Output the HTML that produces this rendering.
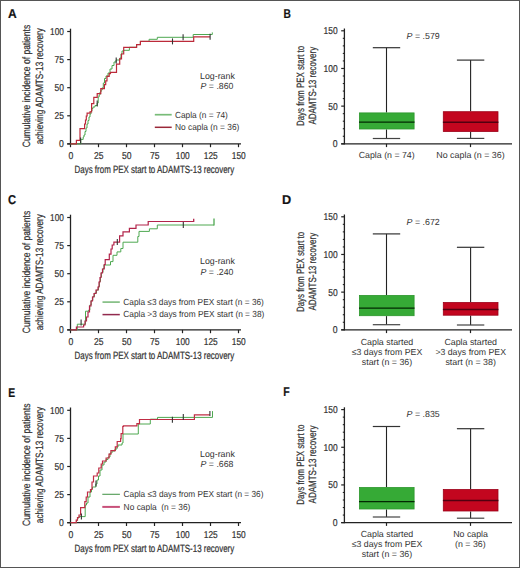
<!DOCTYPE html>
<html><head><meta charset="utf-8"><style>
html,body{margin:0;padding:0;background:#fff;}
body{width:520px;height:568px;overflow:hidden;font-family:"Liberation Sans", sans-serif;}
svg{display:block;}
</style></head><body>
<svg width="520" height="568" viewBox="0 0 520 568" font-family="&quot;Liberation Sans&quot;, sans-serif" fill="#333" text-rendering="geometricPrecision"><style>text{stroke:#333;stroke-width:0.22px;} text.l{stroke:none;}</style>
<rect x="0" y="0" width="520" height="568" fill="#fff"/>
<text x="8.10" y="18.30" font-size="12.8" textLength="8.70" lengthAdjust="spacingAndGlyphs" font-weight="bold" fill="#111">A</text>
<text x="283.50" y="18.10" font-size="12.8" textLength="7.40" lengthAdjust="spacingAndGlyphs" font-weight="bold" fill="#111">B</text>
<text x="8.10" y="204.40" font-size="12.8" textLength="8.10" lengthAdjust="spacingAndGlyphs" font-weight="bold" fill="#111">C</text>
<text x="282.00" y="203.80" font-size="12.8" textLength="9.20" lengthAdjust="spacingAndGlyphs" font-weight="bold" fill="#111">D</text>
<text x="8.30" y="396.80" font-size="12.8" textLength="6.90" lengthAdjust="spacingAndGlyphs" font-weight="bold" fill="#111">E</text>
<text x="283.20" y="396.00" font-size="12.8" textLength="6.40" lengthAdjust="spacingAndGlyphs" font-weight="bold" fill="#111">F</text>
<line x1="70.50" y1="28.70" x2="70.50" y2="144.50" stroke="#222" stroke-width="1.3"/>
<line x1="67.20" y1="143.90" x2="241.00" y2="143.90" stroke="#222" stroke-width="1.3"/>
<line x1="67.20" y1="31.50" x2="70.50" y2="31.50" stroke="#222" stroke-width="1.2"/>
<text x="63.90" y="34.90" font-size="10" text-anchor="end" textLength="13.80" lengthAdjust="spacingAndGlyphs">100</text>
<line x1="67.20" y1="59.60" x2="70.50" y2="59.60" stroke="#222" stroke-width="1.2"/>
<text x="63.90" y="63.00" font-size="10" text-anchor="end" textLength="9.40" lengthAdjust="spacingAndGlyphs">75</text>
<line x1="67.20" y1="87.70" x2="70.50" y2="87.70" stroke="#222" stroke-width="1.2"/>
<text x="63.90" y="91.10" font-size="10" text-anchor="end" textLength="9.40" lengthAdjust="spacingAndGlyphs">50</text>
<line x1="67.20" y1="115.80" x2="70.50" y2="115.80" stroke="#222" stroke-width="1.2"/>
<text x="63.90" y="119.20" font-size="10" text-anchor="end" textLength="9.40" lengthAdjust="spacingAndGlyphs">25</text>
<line x1="67.20" y1="143.90" x2="70.50" y2="143.90" stroke="#222" stroke-width="1.2"/>
<text x="63.90" y="147.30" font-size="10" text-anchor="end" textLength="4.80" lengthAdjust="spacingAndGlyphs">0</text>
<line x1="70.50" y1="143.90" x2="70.50" y2="147.20" stroke="#222" stroke-width="1.2"/>
<text x="70.80" y="159.00" font-size="10" text-anchor="middle" textLength="4.80" lengthAdjust="spacingAndGlyphs">0</text>
<line x1="98.50" y1="143.90" x2="98.50" y2="147.20" stroke="#222" stroke-width="1.2"/>
<text x="98.80" y="159.00" font-size="10" text-anchor="middle" textLength="9.50" lengthAdjust="spacingAndGlyphs">25</text>
<line x1="126.50" y1="143.90" x2="126.50" y2="147.20" stroke="#222" stroke-width="1.2"/>
<text x="126.80" y="159.00" font-size="10" text-anchor="middle" textLength="9.50" lengthAdjust="spacingAndGlyphs">50</text>
<line x1="154.50" y1="143.90" x2="154.50" y2="147.20" stroke="#222" stroke-width="1.2"/>
<text x="154.80" y="159.00" font-size="10" text-anchor="middle" textLength="9.50" lengthAdjust="spacingAndGlyphs">75</text>
<line x1="182.50" y1="143.90" x2="182.50" y2="147.20" stroke="#222" stroke-width="1.2"/>
<text x="182.80" y="159.00" font-size="10" text-anchor="middle" textLength="13.90" lengthAdjust="spacingAndGlyphs">100</text>
<line x1="210.50" y1="143.90" x2="210.50" y2="147.20" stroke="#222" stroke-width="1.2"/>
<text x="210.80" y="159.00" font-size="10" text-anchor="middle" textLength="13.90" lengthAdjust="spacingAndGlyphs">125</text>
<line x1="238.50" y1="143.90" x2="238.50" y2="147.20" stroke="#222" stroke-width="1.2"/>
<text x="238.80" y="159.00" font-size="10" text-anchor="middle" textLength="13.90" lengthAdjust="spacingAndGlyphs">150</text>
<text x="74.60" y="172.80" font-size="10.5" textLength="159.60" lengthAdjust="spacingAndGlyphs">Days from PEX start to ADAMTS-13 recovery</text>
<text x="30.20" y="86.00" font-size="10.6" text-anchor="middle" textLength="122.40" lengthAdjust="spacingAndGlyphs" transform="rotate(-90 30.20 86.00)">Cumulative incidence of patients</text>
<text x="42.60" y="86.20" font-size="10.6" text-anchor="middle" textLength="116.30" lengthAdjust="spacingAndGlyphs" transform="rotate(-90 42.60 86.20)">achieving ADAMTS-13 recovery</text>
<text x="200.00" y="78.70" font-size="8.8" class="l" textLength="34.80" lengthAdjust="spacingAndGlyphs">Log-rank</text>
<text class="l" x="200.6" y="88.90" font-size="8.8" textLength="32.9" lengthAdjust="spacingAndGlyphs"><tspan font-style="italic">P</tspan> = .860</text>
<line x1="154.80" y1="114.70" x2="171.70" y2="114.70" stroke="#78bc78" stroke-width="1.7"/>
<text x="175.00" y="117.60" font-size="8.8" class="l" textLength="52.90" lengthAdjust="spacingAndGlyphs">Capla (n = 74)</text>
<line x1="154.80" y1="127.30" x2="171.70" y2="127.30" stroke="#9a2838" stroke-width="1.5"/>
<text x="175.00" y="130.10" font-size="8.8" class="l" textLength="64.40" lengthAdjust="spacingAndGlyphs">No capla (n = 36)</text>
<path d="M70.50 143.90H80.80V139.40H83.20V137.00H84.00V135.00H85.00V131.50H86.00V128.00H87.00V124.00H88.00V120.50H89.00V117.00H90.00V114.00H91.00V111.00H92.00V108.50H93.00V107.00H95.00V105.50H97.20V103.00H98.20V97.00H99.10V95.00H100.00V92.00H101.00V90.00H102.20V87.80H103.30V83.00H104.50V78.50H106.00V76.00H108.00V73.00H110.00V69.00H112.00V65.50H114.00V62.00H116.00V60.00H119.80V58.00H121.00V54.00H122.00V51.00H124.00V50.30H129.40V47.30H136.60V44.60H140.40V41.40H149.10V39.30H157.30V37.30H193.20V34.50H212.30V32.40H212.30" fill="none" stroke="#4ea851" stroke-width="1.0" stroke-linejoin="miter" stroke-linecap="butt"/>
<path d="M70.50 143.90H76.40V140.30H80.00V128.70H84.60V124.00H85.50V120.00H86.30V116.00H87.10V113.20H90.00V111.80H91.60V103.60H93.80V97.30H97.20V93.60H100.80V88.70H104.40V84.70H105.70V80.80H107.00V76.40H109.20V73.70H110.50V72.40H116.50V64.10H119.70V58.80H121.50V54.00H123.70V47.30H136.60V44.60H140.40V41.40H193.70V36.80H210.10" fill="none" stroke="#bc2a3a" stroke-width="1.2" stroke-linejoin="miter" stroke-linecap="butt"/>
<line x1="183.10" y1="34.30" x2="183.10" y2="40.30" stroke="#333" stroke-width="1.1"/>
<line x1="172.50" y1="38.40" x2="172.50" y2="44.40" stroke="#333" stroke-width="1.1"/>
<line x1="210.10" y1="33.80" x2="210.10" y2="39.80" stroke="#333" stroke-width="1.1"/>
<line x1="116.20" y1="57.50" x2="116.20" y2="63.50" stroke="#333" stroke-width="1.1"/>
<line x1="97.20" y1="100.50" x2="97.20" y2="106.50" stroke="#333" stroke-width="1.1"/>
<line x1="80.60" y1="137.50" x2="80.60" y2="143.50" stroke="#333" stroke-width="1.1"/>
<line x1="344.40" y1="28.50" x2="344.40" y2="144.40" stroke="#222" stroke-width="1.3"/>
<line x1="341.20" y1="143.80" x2="512.00" y2="143.80" stroke="#222" stroke-width="1.3"/>
<line x1="341.20" y1="143.80" x2="344.40" y2="143.80" stroke="#222" stroke-width="1.2"/>
<line x1="342.80" y1="136.27" x2="344.40" y2="136.27" stroke="#222" stroke-width="1.1"/>
<line x1="342.80" y1="128.73" x2="344.40" y2="128.73" stroke="#222" stroke-width="1.1"/>
<line x1="342.80" y1="121.20" x2="344.40" y2="121.20" stroke="#222" stroke-width="1.1"/>
<line x1="342.80" y1="113.67" x2="344.40" y2="113.67" stroke="#222" stroke-width="1.1"/>
<line x1="341.20" y1="106.13" x2="344.40" y2="106.13" stroke="#222" stroke-width="1.2"/>
<line x1="342.80" y1="98.60" x2="344.40" y2="98.60" stroke="#222" stroke-width="1.1"/>
<line x1="342.80" y1="91.07" x2="344.40" y2="91.07" stroke="#222" stroke-width="1.1"/>
<line x1="342.80" y1="83.53" x2="344.40" y2="83.53" stroke="#222" stroke-width="1.1"/>
<line x1="342.80" y1="76.00" x2="344.40" y2="76.00" stroke="#222" stroke-width="1.1"/>
<line x1="341.20" y1="68.47" x2="344.40" y2="68.47" stroke="#222" stroke-width="1.2"/>
<line x1="342.80" y1="60.93" x2="344.40" y2="60.93" stroke="#222" stroke-width="1.1"/>
<line x1="342.80" y1="53.40" x2="344.40" y2="53.40" stroke="#222" stroke-width="1.1"/>
<line x1="342.80" y1="45.87" x2="344.40" y2="45.87" stroke="#222" stroke-width="1.1"/>
<line x1="342.80" y1="38.33" x2="344.40" y2="38.33" stroke="#222" stroke-width="1.1"/>
<line x1="341.20" y1="30.80" x2="344.40" y2="30.80" stroke="#222" stroke-width="1.2"/>
<text x="337.60" y="147.20" font-size="10" text-anchor="end" textLength="4.80" lengthAdjust="spacingAndGlyphs">0</text>
<text x="337.60" y="109.53" font-size="10" text-anchor="end" textLength="9.40" lengthAdjust="spacingAndGlyphs">50</text>
<text x="337.60" y="71.87" font-size="10" text-anchor="end" textLength="14.00" lengthAdjust="spacingAndGlyphs">100</text>
<text x="337.60" y="34.20" font-size="10" text-anchor="end" textLength="14.00" lengthAdjust="spacingAndGlyphs">150</text>
<line x1="386.50" y1="143.80" x2="386.50" y2="147.10" stroke="#222" stroke-width="1.2"/>
<line x1="470.50" y1="143.80" x2="470.50" y2="147.10" stroke="#222" stroke-width="1.2"/>
<text x="304.20" y="85.90" font-size="10.6" text-anchor="middle" textLength="80.10" lengthAdjust="spacingAndGlyphs" transform="rotate(-90 304.20 85.90)">Days from PEX start to</text>
<text x="316.30" y="85.70" font-size="10.6" text-anchor="middle" textLength="77.80" lengthAdjust="spacingAndGlyphs" transform="rotate(-90 316.30 85.70)">ADAMTS-13 recovery</text>
<text class="l" x="406.6" y="38.80" font-size="8.8" textLength="33.2" lengthAdjust="spacingAndGlyphs"><tspan font-style="italic">P</tspan> = .579</text>
<line x1="386.50" y1="47.70" x2="386.50" y2="112.50" stroke="#222" stroke-width="1.1"/>
<line x1="386.50" y1="129.40" x2="386.50" y2="138.50" stroke="#222" stroke-width="1.1"/>
<line x1="372.80" y1="47.70" x2="400.20" y2="47.70" stroke="#333" stroke-width="1.2"/>
<line x1="372.80" y1="138.50" x2="400.20" y2="138.50" stroke="#444" stroke-width="1.2"/>
<rect x="359.40" y="112.90" width="54.70" height="16.10" fill="#36aa36" stroke="#2c962c" stroke-width="0.8"/>
<line x1="359.00" y1="122.10" x2="414.50" y2="122.10" stroke="#022802" stroke-width="1.4"/>
<line x1="470.60" y1="60.10" x2="470.60" y2="111.30" stroke="#222" stroke-width="1.1"/>
<line x1="470.60" y1="131.90" x2="470.60" y2="138.40" stroke="#222" stroke-width="1.1"/>
<line x1="456.90" y1="60.10" x2="484.30" y2="60.10" stroke="#333" stroke-width="1.2"/>
<line x1="456.90" y1="138.40" x2="484.30" y2="138.40" stroke="#444" stroke-width="1.2"/>
<rect x="443.30" y="111.70" width="54.70" height="19.80" fill="#c3061f" stroke="#9c0018" stroke-width="0.8"/>
<line x1="442.90" y1="122.30" x2="498.40" y2="122.30" stroke="#520010" stroke-width="1.4"/>
<text x="386.70" y="158.30" font-size="8.8" class="l" text-anchor="middle" textLength="55.90" lengthAdjust="spacingAndGlyphs">Capla (n = 74)</text>
<text x="470.50" y="158.40" font-size="8.8" class="l" text-anchor="middle" textLength="68.40" lengthAdjust="spacingAndGlyphs">No capla (n = 36)</text>
<line x1="70.50" y1="214.70" x2="70.50" y2="330.50" stroke="#222" stroke-width="1.3"/>
<line x1="67.20" y1="329.90" x2="241.00" y2="329.90" stroke="#222" stroke-width="1.3"/>
<line x1="67.20" y1="217.50" x2="70.50" y2="217.50" stroke="#222" stroke-width="1.2"/>
<text x="63.90" y="220.90" font-size="10" text-anchor="end" textLength="13.80" lengthAdjust="spacingAndGlyphs">100</text>
<line x1="67.20" y1="245.60" x2="70.50" y2="245.60" stroke="#222" stroke-width="1.2"/>
<text x="63.90" y="249.00" font-size="10" text-anchor="end" textLength="9.40" lengthAdjust="spacingAndGlyphs">75</text>
<line x1="67.20" y1="273.70" x2="70.50" y2="273.70" stroke="#222" stroke-width="1.2"/>
<text x="63.90" y="277.10" font-size="10" text-anchor="end" textLength="9.40" lengthAdjust="spacingAndGlyphs">50</text>
<line x1="67.20" y1="301.80" x2="70.50" y2="301.80" stroke="#222" stroke-width="1.2"/>
<text x="63.90" y="305.20" font-size="10" text-anchor="end" textLength="9.40" lengthAdjust="spacingAndGlyphs">25</text>
<line x1="67.20" y1="329.90" x2="70.50" y2="329.90" stroke="#222" stroke-width="1.2"/>
<text x="63.90" y="333.30" font-size="10" text-anchor="end" textLength="4.80" lengthAdjust="spacingAndGlyphs">0</text>
<line x1="70.50" y1="329.90" x2="70.50" y2="333.20" stroke="#222" stroke-width="1.2"/>
<text x="70.80" y="345.00" font-size="10" text-anchor="middle" textLength="4.80" lengthAdjust="spacingAndGlyphs">0</text>
<line x1="98.50" y1="329.90" x2="98.50" y2="333.20" stroke="#222" stroke-width="1.2"/>
<text x="98.80" y="345.00" font-size="10" text-anchor="middle" textLength="9.50" lengthAdjust="spacingAndGlyphs">25</text>
<line x1="126.50" y1="329.90" x2="126.50" y2="333.20" stroke="#222" stroke-width="1.2"/>
<text x="126.80" y="345.00" font-size="10" text-anchor="middle" textLength="9.50" lengthAdjust="spacingAndGlyphs">50</text>
<line x1="154.50" y1="329.90" x2="154.50" y2="333.20" stroke="#222" stroke-width="1.2"/>
<text x="154.80" y="345.00" font-size="10" text-anchor="middle" textLength="9.50" lengthAdjust="spacingAndGlyphs">75</text>
<line x1="182.50" y1="329.90" x2="182.50" y2="333.20" stroke="#222" stroke-width="1.2"/>
<text x="182.80" y="345.00" font-size="10" text-anchor="middle" textLength="13.90" lengthAdjust="spacingAndGlyphs">100</text>
<line x1="210.50" y1="329.90" x2="210.50" y2="333.20" stroke="#222" stroke-width="1.2"/>
<text x="210.80" y="345.00" font-size="10" text-anchor="middle" textLength="13.90" lengthAdjust="spacingAndGlyphs">125</text>
<line x1="238.50" y1="329.90" x2="238.50" y2="333.20" stroke="#222" stroke-width="1.2"/>
<text x="238.80" y="345.00" font-size="10" text-anchor="middle" textLength="13.90" lengthAdjust="spacingAndGlyphs">150</text>
<text x="74.60" y="358.80" font-size="10.5" textLength="159.60" lengthAdjust="spacingAndGlyphs">Days from PEX start to ADAMTS-13 recovery</text>
<text x="30.20" y="272.00" font-size="10.6" text-anchor="middle" textLength="122.40" lengthAdjust="spacingAndGlyphs" transform="rotate(-90 30.20 272.00)">Cumulative incidence of patients</text>
<text x="42.60" y="272.20" font-size="10.6" text-anchor="middle" textLength="116.30" lengthAdjust="spacingAndGlyphs" transform="rotate(-90 42.60 272.20)">achieving ADAMTS-13 recovery</text>
<text x="200.00" y="264.40" font-size="8.8" class="l" textLength="34.80" lengthAdjust="spacingAndGlyphs">Log-rank</text>
<text class="l" x="200.6" y="274.60" font-size="8.8" textLength="32.9" lengthAdjust="spacingAndGlyphs"><tspan font-style="italic">P</tspan> = .240</text>
<line x1="102.50" y1="302.10" x2="119.80" y2="302.10" stroke="#7cba7c" stroke-width="1.6"/>
<text x="123.30" y="304.60" font-size="8.8" class="l" textLength="140.60" lengthAdjust="spacingAndGlyphs">Capla ≤3 days from PEX start (n = 36)</text>
<line x1="102.50" y1="314.60" x2="119.80" y2="314.60" stroke="#922a4e" stroke-width="1.5"/>
<text x="123.30" y="316.90" font-size="8.8" class="l" textLength="141.00" lengthAdjust="spacingAndGlyphs">Capla &gt;3 days from PEX start (n = 38)</text>
<path d="M70.50 329.90H77.30V324.20H85.50V311.20H88.70V310.00H89.80V305.00H91.20V300.50H92.80V296.50H94.50V293.00H96.50V290.00H98.50V286.50H99.50V281.50H100.50V277.00H101.50V272.50H103.00V268.50H104.00V265.00H110.50V261.60H113.00V255.30H117.00V251.90H120.80V248.50H123.00V242.20H137.80V236.50H139.00V231.40H149.40V228.80H157.30V225.00H214.00" fill="none" stroke="#4ea851" stroke-width="1.0" stroke-linejoin="miter" stroke-linecap="butt"/>
<line x1="214.00" y1="225.60" x2="214.00" y2="218.40" stroke="#4ea851" stroke-width="1.3"/>
<path d="M70.50 329.90H76.40V327.00H83.60V325.00H85.00V321.00H86.50V317.00H88.00V312.00H89.50V306.00H91.00V301.00H92.50V297.00H94.00V293.50H96.00V290.00H98.00V287.00H99.00V282.00H100.00V277.50H101.00V273.00H102.50V269.00H104.20V264.50H105.20V259.70H109.30V254.20H111.00V249.00H112.20V245.00H113.90V242.20H119.60V235.90H123.00V231.90H129.40V228.40H136.00V225.00H148.20V221.50H193.70" fill="none" stroke="#b2244a" stroke-width="1.2" stroke-linejoin="miter" stroke-linecap="butt"/>
<line x1="193.70" y1="222.10" x2="193.70" y2="218.70" stroke="#b2244a" stroke-width="1.3"/>
<line x1="81.10" y1="319.50" x2="81.10" y2="325.50" stroke="#333" stroke-width="1.1"/>
<line x1="117.30" y1="239.00" x2="117.30" y2="245.00" stroke="#333" stroke-width="1.1"/>
<line x1="183.30" y1="222.00" x2="183.30" y2="228.00" stroke="#333" stroke-width="1.1"/>
<line x1="344.40" y1="214.50" x2="344.40" y2="330.40" stroke="#222" stroke-width="1.3"/>
<line x1="341.20" y1="329.80" x2="512.00" y2="329.80" stroke="#222" stroke-width="1.3"/>
<line x1="341.20" y1="329.80" x2="344.40" y2="329.80" stroke="#222" stroke-width="1.2"/>
<line x1="342.80" y1="322.27" x2="344.40" y2="322.27" stroke="#222" stroke-width="1.1"/>
<line x1="342.80" y1="314.73" x2="344.40" y2="314.73" stroke="#222" stroke-width="1.1"/>
<line x1="342.80" y1="307.20" x2="344.40" y2="307.20" stroke="#222" stroke-width="1.1"/>
<line x1="342.80" y1="299.67" x2="344.40" y2="299.67" stroke="#222" stroke-width="1.1"/>
<line x1="341.20" y1="292.13" x2="344.40" y2="292.13" stroke="#222" stroke-width="1.2"/>
<line x1="342.80" y1="284.60" x2="344.40" y2="284.60" stroke="#222" stroke-width="1.1"/>
<line x1="342.80" y1="277.07" x2="344.40" y2="277.07" stroke="#222" stroke-width="1.1"/>
<line x1="342.80" y1="269.53" x2="344.40" y2="269.53" stroke="#222" stroke-width="1.1"/>
<line x1="342.80" y1="262.00" x2="344.40" y2="262.00" stroke="#222" stroke-width="1.1"/>
<line x1="341.20" y1="254.47" x2="344.40" y2="254.47" stroke="#222" stroke-width="1.2"/>
<line x1="342.80" y1="246.93" x2="344.40" y2="246.93" stroke="#222" stroke-width="1.1"/>
<line x1="342.80" y1="239.40" x2="344.40" y2="239.40" stroke="#222" stroke-width="1.1"/>
<line x1="342.80" y1="231.87" x2="344.40" y2="231.87" stroke="#222" stroke-width="1.1"/>
<line x1="342.80" y1="224.33" x2="344.40" y2="224.33" stroke="#222" stroke-width="1.1"/>
<line x1="341.20" y1="216.80" x2="344.40" y2="216.80" stroke="#222" stroke-width="1.2"/>
<text x="337.60" y="333.20" font-size="10" text-anchor="end" textLength="4.80" lengthAdjust="spacingAndGlyphs">0</text>
<text x="337.60" y="295.53" font-size="10" text-anchor="end" textLength="9.40" lengthAdjust="spacingAndGlyphs">50</text>
<text x="337.60" y="257.87" font-size="10" text-anchor="end" textLength="14.00" lengthAdjust="spacingAndGlyphs">100</text>
<text x="337.60" y="220.20" font-size="10" text-anchor="end" textLength="14.00" lengthAdjust="spacingAndGlyphs">150</text>
<line x1="386.50" y1="329.80" x2="386.50" y2="333.10" stroke="#222" stroke-width="1.2"/>
<line x1="470.50" y1="329.80" x2="470.50" y2="333.10" stroke="#222" stroke-width="1.2"/>
<text x="304.20" y="271.90" font-size="10.6" text-anchor="middle" textLength="80.10" lengthAdjust="spacingAndGlyphs" transform="rotate(-90 304.20 271.90)">Days from PEX start to</text>
<text x="316.30" y="271.70" font-size="10.6" text-anchor="middle" textLength="77.80" lengthAdjust="spacingAndGlyphs" transform="rotate(-90 316.30 271.70)">ADAMTS-13 recovery</text>
<text class="l" x="406.6" y="224.50" font-size="8.8" textLength="33.2" lengthAdjust="spacingAndGlyphs"><tspan font-style="italic">P</tspan> = .672</text>
<line x1="386.50" y1="233.90" x2="386.50" y2="295.00" stroke="#222" stroke-width="1.1"/>
<line x1="386.50" y1="316.10" x2="386.50" y2="324.70" stroke="#222" stroke-width="1.1"/>
<line x1="372.80" y1="233.90" x2="400.20" y2="233.90" stroke="#333" stroke-width="1.2"/>
<line x1="372.80" y1="324.70" x2="400.20" y2="324.70" stroke="#444" stroke-width="1.2"/>
<rect x="359.40" y="295.40" width="54.70" height="20.30" fill="#36aa36" stroke="#2c962c" stroke-width="0.8"/>
<line x1="359.00" y1="308.10" x2="414.50" y2="308.10" stroke="#022802" stroke-width="1.4"/>
<line x1="470.60" y1="247.30" x2="470.60" y2="302.10" stroke="#222" stroke-width="1.1"/>
<line x1="470.60" y1="315.60" x2="470.60" y2="325.00" stroke="#222" stroke-width="1.1"/>
<line x1="456.90" y1="247.30" x2="484.30" y2="247.30" stroke="#333" stroke-width="1.2"/>
<line x1="456.90" y1="325.00" x2="484.30" y2="325.00" stroke="#444" stroke-width="1.2"/>
<rect x="443.30" y="302.50" width="54.70" height="12.70" fill="#c3061f" stroke="#9c0018" stroke-width="0.8"/>
<line x1="442.90" y1="309.50" x2="498.40" y2="309.50" stroke="#520010" stroke-width="1.4"/>
<text x="387.00" y="344.60" font-size="8.8" class="l" text-anchor="middle" textLength="52.60" lengthAdjust="spacingAndGlyphs">Capla started</text>
<text x="387.00" y="355.00" font-size="8.8" class="l" text-anchor="middle" textLength="70.60" lengthAdjust="spacingAndGlyphs">≤3 days from PEX</text>
<text x="387.00" y="365.40" font-size="8.8" class="l" text-anchor="middle" textLength="50.50" lengthAdjust="spacingAndGlyphs">start (n = 36)</text>
<text x="470.70" y="344.60" font-size="8.8" class="l" text-anchor="middle" textLength="52.60" lengthAdjust="spacingAndGlyphs">Capla started</text>
<text x="470.70" y="355.00" font-size="8.8" class="l" text-anchor="middle" textLength="70.60" lengthAdjust="spacingAndGlyphs">&gt;3 days from PEX</text>
<text x="470.70" y="365.40" font-size="8.8" class="l" text-anchor="middle" textLength="50.50" lengthAdjust="spacingAndGlyphs">start (n = 38)</text>
<line x1="70.50" y1="407.50" x2="70.50" y2="523.30" stroke="#222" stroke-width="1.3"/>
<line x1="67.20" y1="522.70" x2="241.00" y2="522.70" stroke="#222" stroke-width="1.3"/>
<line x1="67.20" y1="410.30" x2="70.50" y2="410.30" stroke="#222" stroke-width="1.2"/>
<text x="63.90" y="413.70" font-size="10" text-anchor="end" textLength="13.80" lengthAdjust="spacingAndGlyphs">100</text>
<line x1="67.20" y1="438.40" x2="70.50" y2="438.40" stroke="#222" stroke-width="1.2"/>
<text x="63.90" y="441.80" font-size="10" text-anchor="end" textLength="9.40" lengthAdjust="spacingAndGlyphs">75</text>
<line x1="67.20" y1="466.50" x2="70.50" y2="466.50" stroke="#222" stroke-width="1.2"/>
<text x="63.90" y="469.90" font-size="10" text-anchor="end" textLength="9.40" lengthAdjust="spacingAndGlyphs">50</text>
<line x1="67.20" y1="494.60" x2="70.50" y2="494.60" stroke="#222" stroke-width="1.2"/>
<text x="63.90" y="498.00" font-size="10" text-anchor="end" textLength="9.40" lengthAdjust="spacingAndGlyphs">25</text>
<line x1="67.20" y1="522.70" x2="70.50" y2="522.70" stroke="#222" stroke-width="1.2"/>
<text x="63.90" y="526.10" font-size="10" text-anchor="end" textLength="4.80" lengthAdjust="spacingAndGlyphs">0</text>
<line x1="70.50" y1="522.70" x2="70.50" y2="526.00" stroke="#222" stroke-width="1.2"/>
<text x="70.80" y="537.80" font-size="10" text-anchor="middle" textLength="4.80" lengthAdjust="spacingAndGlyphs">0</text>
<line x1="98.50" y1="522.70" x2="98.50" y2="526.00" stroke="#222" stroke-width="1.2"/>
<text x="98.80" y="537.80" font-size="10" text-anchor="middle" textLength="9.50" lengthAdjust="spacingAndGlyphs">25</text>
<line x1="126.50" y1="522.70" x2="126.50" y2="526.00" stroke="#222" stroke-width="1.2"/>
<text x="126.80" y="537.80" font-size="10" text-anchor="middle" textLength="9.50" lengthAdjust="spacingAndGlyphs">50</text>
<line x1="154.50" y1="522.70" x2="154.50" y2="526.00" stroke="#222" stroke-width="1.2"/>
<text x="154.80" y="537.80" font-size="10" text-anchor="middle" textLength="9.50" lengthAdjust="spacingAndGlyphs">75</text>
<line x1="182.50" y1="522.70" x2="182.50" y2="526.00" stroke="#222" stroke-width="1.2"/>
<text x="182.80" y="537.80" font-size="10" text-anchor="middle" textLength="13.90" lengthAdjust="spacingAndGlyphs">100</text>
<line x1="210.50" y1="522.70" x2="210.50" y2="526.00" stroke="#222" stroke-width="1.2"/>
<text x="210.80" y="537.80" font-size="10" text-anchor="middle" textLength="13.90" lengthAdjust="spacingAndGlyphs">125</text>
<line x1="238.50" y1="522.70" x2="238.50" y2="526.00" stroke="#222" stroke-width="1.2"/>
<text x="238.80" y="537.80" font-size="10" text-anchor="middle" textLength="13.90" lengthAdjust="spacingAndGlyphs">150</text>
<text x="74.60" y="551.60" font-size="10.5" textLength="159.60" lengthAdjust="spacingAndGlyphs">Days from PEX start to ADAMTS-13 recovery</text>
<text x="30.20" y="464.80" font-size="10.6" text-anchor="middle" textLength="122.40" lengthAdjust="spacingAndGlyphs" transform="rotate(-90 30.20 464.80)">Cumulative incidence of patients</text>
<text x="42.60" y="465.00" font-size="10.6" text-anchor="middle" textLength="116.30" lengthAdjust="spacingAndGlyphs" transform="rotate(-90 42.60 465.00)">achieving ADAMTS-13 recovery</text>
<text x="200.00" y="456.60" font-size="8.8" class="l" textLength="34.80" lengthAdjust="spacingAndGlyphs">Log-rank</text>
<text class="l" x="200.6" y="466.80" font-size="8.8" textLength="32.9" lengthAdjust="spacingAndGlyphs"><tspan font-style="italic">P</tspan> = .668</text>
<line x1="102.30" y1="494.30" x2="119.90" y2="494.30" stroke="#4f9a52" stroke-width="1.1"/>
<text x="123.60" y="496.90" font-size="8.8" class="l" textLength="139.80" lengthAdjust="spacingAndGlyphs">Capla ≤3 days from PEX start (n = 36)</text>
<line x1="102.30" y1="506.90" x2="119.90" y2="506.90" stroke="#c8507a" stroke-width="2.0"/>
<text x="123.60" y="510.10" font-size="8.8" class="l" textLength="66.80" lengthAdjust="spacingAndGlyphs" xml:space="preserve">No capla  (n = 36)</text>
<path d="M70.50 522.70H76.50V520.20H77.50V518.00H79.00V516.60H85.20V505.00H86.50V503.00H88.00V497.00H90.00V492.00H91.50V489.00H92.50V487.00H95.80V484.00H97.00V480.00H98.50V476.00H100.00V470.00H102.00V465.00H104.00V462.00H106.00V459.50H108.00V457.00H110.00V453.00H112.00V451.00H115.00V449.00H117.00V447.00H118.00V445.00H122.00V443.00H123.00V434.00H138.30V424.00H150.30V419.20H157.50V417.40H212.50V411.10H212.50" fill="none" stroke="#4ea851" stroke-width="1.0" stroke-linejoin="miter" stroke-linecap="butt"/>
<path d="M70.50 522.70H76.20V520.20H77.50V517.50H79.00V515.00H80.60V507.70H84.80V501.70H86.20V497.00H87.50V492.00H90.50V489.50H92.00V482.00H93.50V476.00H97.20V473.00H98.80V468.00H101.20V464.00H102.50V461.00H106.10V458.00H109.00V454.10H110.90V450.70H115.30V446.80H117.20V441.50H120.60V438.60H121.10V433.70H122.80V426.50H123.40V425.90H136.90V423.60H139.50V419.50H194.40V414.80H209.90" fill="none" stroke="#c02c44" stroke-width="1.2" stroke-linejoin="miter" stroke-linecap="butt"/>
<line x1="81.40" y1="513.50" x2="81.40" y2="519.50" stroke="#333" stroke-width="1.1"/>
<line x1="96.00" y1="480.50" x2="96.00" y2="486.50" stroke="#333" stroke-width="1.1"/>
<line x1="172.40" y1="416.80" x2="172.40" y2="422.80" stroke="#333" stroke-width="1.1"/>
<line x1="183.30" y1="414.00" x2="183.30" y2="420.00" stroke="#333" stroke-width="1.1"/>
<line x1="209.90" y1="411.10" x2="209.90" y2="415.90" stroke="#333" stroke-width="1.1"/>
<line x1="344.40" y1="407.30" x2="344.40" y2="523.20" stroke="#222" stroke-width="1.3"/>
<line x1="341.20" y1="522.60" x2="512.00" y2="522.60" stroke="#222" stroke-width="1.3"/>
<line x1="341.20" y1="522.60" x2="344.40" y2="522.60" stroke="#222" stroke-width="1.2"/>
<line x1="342.80" y1="515.07" x2="344.40" y2="515.07" stroke="#222" stroke-width="1.1"/>
<line x1="342.80" y1="507.53" x2="344.40" y2="507.53" stroke="#222" stroke-width="1.1"/>
<line x1="342.80" y1="500.00" x2="344.40" y2="500.00" stroke="#222" stroke-width="1.1"/>
<line x1="342.80" y1="492.47" x2="344.40" y2="492.47" stroke="#222" stroke-width="1.1"/>
<line x1="341.20" y1="484.93" x2="344.40" y2="484.93" stroke="#222" stroke-width="1.2"/>
<line x1="342.80" y1="477.40" x2="344.40" y2="477.40" stroke="#222" stroke-width="1.1"/>
<line x1="342.80" y1="469.87" x2="344.40" y2="469.87" stroke="#222" stroke-width="1.1"/>
<line x1="342.80" y1="462.33" x2="344.40" y2="462.33" stroke="#222" stroke-width="1.1"/>
<line x1="342.80" y1="454.80" x2="344.40" y2="454.80" stroke="#222" stroke-width="1.1"/>
<line x1="341.20" y1="447.27" x2="344.40" y2="447.27" stroke="#222" stroke-width="1.2"/>
<line x1="342.80" y1="439.73" x2="344.40" y2="439.73" stroke="#222" stroke-width="1.1"/>
<line x1="342.80" y1="432.20" x2="344.40" y2="432.20" stroke="#222" stroke-width="1.1"/>
<line x1="342.80" y1="424.67" x2="344.40" y2="424.67" stroke="#222" stroke-width="1.1"/>
<line x1="342.80" y1="417.13" x2="344.40" y2="417.13" stroke="#222" stroke-width="1.1"/>
<line x1="341.20" y1="409.60" x2="344.40" y2="409.60" stroke="#222" stroke-width="1.2"/>
<text x="337.60" y="526.00" font-size="10" text-anchor="end" textLength="4.80" lengthAdjust="spacingAndGlyphs">0</text>
<text x="337.60" y="488.33" font-size="10" text-anchor="end" textLength="9.40" lengthAdjust="spacingAndGlyphs">50</text>
<text x="337.60" y="450.67" font-size="10" text-anchor="end" textLength="14.00" lengthAdjust="spacingAndGlyphs">100</text>
<text x="337.60" y="413.00" font-size="10" text-anchor="end" textLength="14.00" lengthAdjust="spacingAndGlyphs">150</text>
<line x1="386.50" y1="522.60" x2="386.50" y2="525.90" stroke="#222" stroke-width="1.2"/>
<line x1="470.50" y1="522.60" x2="470.50" y2="525.90" stroke="#222" stroke-width="1.2"/>
<text x="304.20" y="464.70" font-size="10.6" text-anchor="middle" textLength="80.10" lengthAdjust="spacingAndGlyphs" transform="rotate(-90 304.20 464.70)">Days from PEX start to</text>
<text x="316.30" y="464.50" font-size="10.6" text-anchor="middle" textLength="77.80" lengthAdjust="spacingAndGlyphs" transform="rotate(-90 316.30 464.50)">ADAMTS-13 recovery</text>
<text class="l" x="406.6" y="417.10" font-size="8.8" textLength="33.2" lengthAdjust="spacingAndGlyphs"><tspan font-style="italic">P</tspan> = .835</text>
<line x1="386.50" y1="426.50" x2="386.50" y2="487.10" stroke="#222" stroke-width="1.1"/>
<line x1="386.50" y1="509.40" x2="386.50" y2="517.00" stroke="#222" stroke-width="1.1"/>
<line x1="372.80" y1="426.50" x2="400.20" y2="426.50" stroke="#333" stroke-width="1.2"/>
<line x1="372.80" y1="517.00" x2="400.20" y2="517.00" stroke="#444" stroke-width="1.2"/>
<rect x="359.40" y="487.50" width="54.70" height="21.50" fill="#36aa36" stroke="#2c962c" stroke-width="0.8"/>
<line x1="359.00" y1="501.60" x2="414.50" y2="501.60" stroke="#022802" stroke-width="1.4"/>
<line x1="470.60" y1="428.70" x2="470.60" y2="489.10" stroke="#222" stroke-width="1.1"/>
<line x1="470.60" y1="511.40" x2="470.60" y2="518.20" stroke="#222" stroke-width="1.1"/>
<line x1="456.90" y1="428.70" x2="484.30" y2="428.70" stroke="#333" stroke-width="1.2"/>
<line x1="456.90" y1="518.20" x2="484.30" y2="518.20" stroke="#444" stroke-width="1.2"/>
<rect x="443.30" y="489.50" width="54.70" height="21.50" fill="#c3061f" stroke="#9c0018" stroke-width="0.8"/>
<line x1="442.90" y1="500.50" x2="498.40" y2="500.50" stroke="#520010" stroke-width="1.4"/>
<text x="387.00" y="536.80" font-size="8.8" class="l" text-anchor="middle" textLength="52.60" lengthAdjust="spacingAndGlyphs">Capla started</text>
<text x="387.00" y="547.10" font-size="8.8" class="l" text-anchor="middle" textLength="70.60" lengthAdjust="spacingAndGlyphs">≤3 days from PEX</text>
<text x="387.00" y="557.40" font-size="8.8" class="l" text-anchor="middle" textLength="50.50" lengthAdjust="spacingAndGlyphs">start (n = 36)</text>
<text x="470.60" y="536.90" font-size="8.8" class="l" text-anchor="middle" textLength="34.80" lengthAdjust="spacingAndGlyphs">No capla</text>
<text x="470.40" y="547.30" font-size="8.8" class="l" text-anchor="middle" textLength="30.60" lengthAdjust="spacingAndGlyphs">(n = 36)</text>
<rect x="0.5" y="0.5" width="519" height="567" fill="none" stroke="#555" stroke-width="1"/>
</svg>
</body></html>
